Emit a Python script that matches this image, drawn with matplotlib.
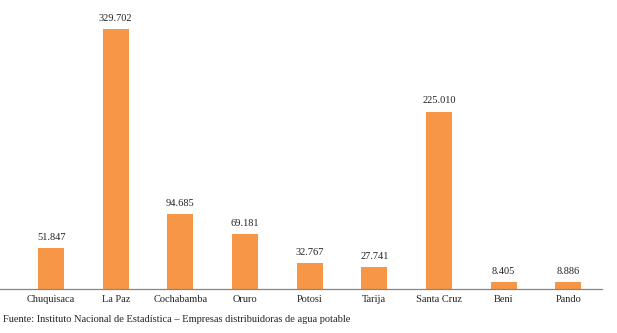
import matplotlib
matplotlib.use("Agg")
import matplotlib.pyplot as plt

departamentos = ["Chuquisaca", "La Paz", "Cochabamba", "Oruro", "Potosi",
                 "Tarija", "Santa Cruz", "Beni", "Pando"]
conexiones = [51847, 329702, 94685, 69181, 32767, 27741, 225010, 8405, 8886]
etiquetas = ["51.847", "329.702", "94.685", "69.181", "32.767",
             "27.741", "225.010", "8.405", "8.886"]
fuente = "Fuente: Instituto Nacional de Estadística – Empresas distribuidoras de agua potable"

plt.rcParams["font.family"] = ["Liberation Serif", "DejaVu Serif"]

fig = plt.figure(figsize=(6.17, 3.33), dpi=100)
ax = fig.add_axes([0.0, 44 / 333, 602 / 617, (289 - 10) / 333])

x = list(range(len(departamentos)))
bars = ax.bar(x, conexiones, width=0.4, color="#F79646", zorder=2)

for b, lab in zip(bars, etiquetas):
    ax.annotate(lab, (b.get_x() + b.get_width() / 2, b.get_height()),
                xytext=(0, 4.5), textcoords="offset points",
                ha="center", va="bottom", fontsize=7.5, color="#222222")

ax.set_xlim(-0.79, 8.52)
ax.set_ylim(0, 329702 * (289 - 10) / 260)
ax.set_xticks(x)
ax.set_xticklabels(departamentos, fontsize=7.5, color="#222222")
ax.tick_params(axis="x", length=0, pad=4)
ax.set_yticks([])
for s in ["top", "right", "left"]:
    ax.spines[s].set_visible(False)
ax.spines["bottom"].set_color("#868686")
ax.spines["bottom"].set_linewidth(0.9)

fig.text(3 / 617, 1 - 320 / 333, fuente, fontsize=7.5, ha="left", va="center",
         color="#222222")

fig.savefig("out.png", dpi=100)
